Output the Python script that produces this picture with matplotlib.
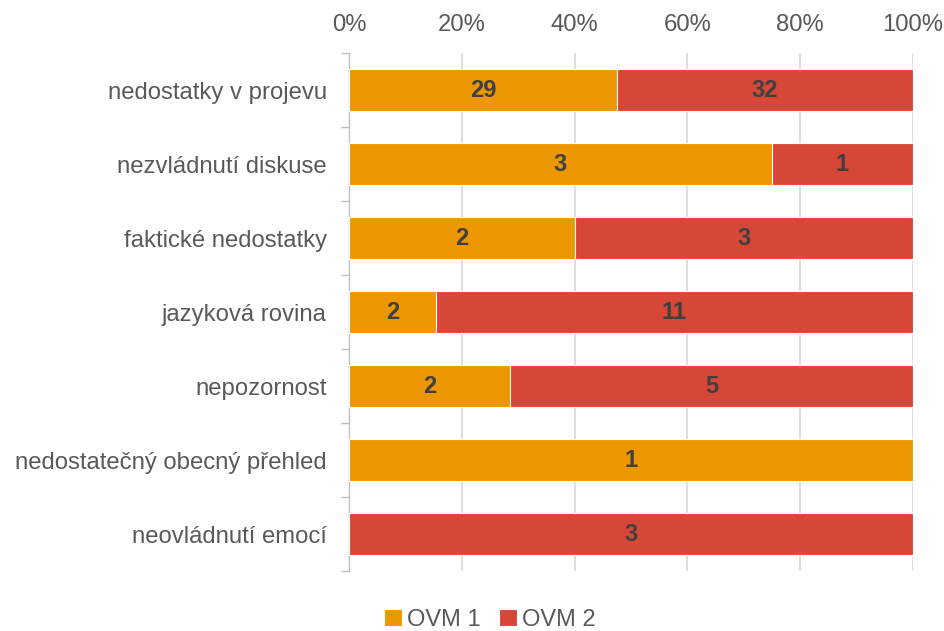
import matplotlib
matplotlib.use("Agg")
import matplotlib.pyplot as plt
import numpy as np
from matplotlib.ticker import FixedLocator, PercentFormatter

categories = ["nedostatky v projevu", "nezvládnutí diskuse", "faktické nedostatky",
              "jazyková rovina", "nepozornost", "nedostatečný obecný přehled",
              "neovládnutí emocí"]
ovm1 = [29, 3, 2, 2, 2, 1, 0]
ovm2 = [32, 1, 3, 11, 5, 0, 3]
series_names = ["OVM 1", "OVM 2"]
xticks = [0, 20, 40, 60, 80, 100]

plt.rcParams['font.family'] = ['Liberation Sans', 'DejaVu Sans']

c1 = "#EC9700"
c2 = "#D74737"
txt = "#595959"

fig = plt.figure(figsize=(9.45, 6.31), dpi=100)
ax = fig.add_axes([349/945, 1-571/631, (913-349)/945, (571-53)/631])

a1 = np.array(ovm1, float)
a2 = np.array(ovm2, float)
tot = a1 + a2
p1 = a1 / tot * 100
p2 = a2 / tot * 100
y = np.arange(len(categories))

b1 = ax.barh(y, p1, height=0.58, color=c1, edgecolor="white", linewidth=0.8, label=series_names[0], zorder=3)
b2 = ax.barh(y, p2, left=p1, height=0.58, color=c2, edgecolor="white", linewidth=0.8, label=series_names[1], zorder=3)

for i in range(len(categories)):
    if a1[i] > 0:
        ax.text(p1[i]/2, y[i], f"{int(a1[i])}", ha="center", va="center",
                fontsize=17, fontweight="bold", color="#404040", zorder=4)
    if a2[i] > 0:
        ax.text(p1[i] + p2[i]/2, y[i], f"{int(a2[i])}", ha="center", va="center",
                fontsize=17, fontweight="bold", color="#404040", zorder=4)

ax.set_xlim(0, 100)
ax.set_ylim(len(categories)-0.5, -0.5)
ax.set_xticks(xticks)
ax.xaxis.set_major_formatter(PercentFormatter(decimals=0))
ax.xaxis.tick_top()
ax.tick_params(axis="x", length=0, labelsize=17.2, labelcolor=txt, pad=12)
ax.set_yticks(y)
ax.set_yticklabels(categories)
ax.tick_params(axis="y", which="major", length=0, labelsize=17.2, labelcolor=txt, pad=16)
ax.yaxis.set_minor_locator(FixedLocator(np.arange(-0.5, len(categories), 1)))
ax.tick_params(axis="y", which="minor", length=6, color="#BFBFBF", width=1)

ax.grid(axis="x", color="#D9D9D9", linewidth=1.2, zorder=0)
for s in ["top", "right", "bottom"]:
    ax.spines[s].set_visible(False)
ax.spines["left"].set_color("#BFBFBF")
ax.spines["left"].set_linewidth(1)

fig.legend(handles=[b1, b2], labels=series_names, loc="center",
           bbox_to_anchor=(490/945, 1-620/631), ncol=2, frameon=False,
           fontsize=17, handlelength=0.75, handleheight=0.75, handletextpad=0.2,
           columnspacing=0.8, labelcolor=txt, borderaxespad=0)

fig.savefig("out.png", dpi=100)
